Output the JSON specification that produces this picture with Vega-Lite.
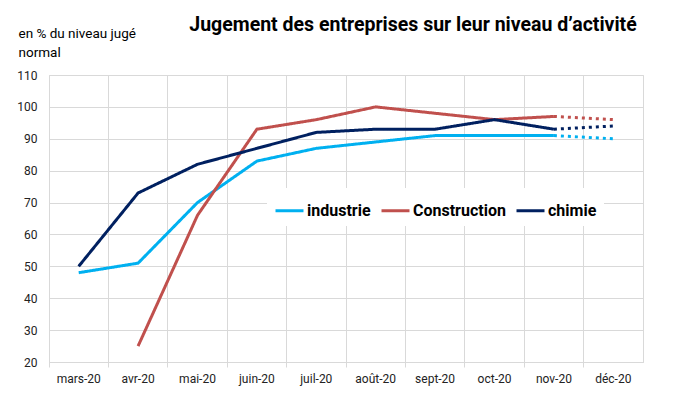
{
  "$schema": "https://vega.github.io/schema/vega-lite/v6.json",
  "width": 594,
  "height": 287,
  "autosize": {"type": "none"},
  "padding": {"left": 49, "top": 75, "right": 37, "bottom": 35},
  "background": "white",
  "config": {
    "font": "Roboto",
    "view": {"stroke": "#d9d9d9", "strokeWidth": 1}
  },
  "title": {
    "text": "Jugement des entreprises sur leur niveau d’activité",
    "font": "Roboto",
    "fontSize": 19.5,
    "fontWeight": "bold",
    "color": "#000000",
    "anchor": "middle",
    "dx": 67,
    "offset": -9
  },
  "data": {
    "values": [
      {"mois": "mars-20", "serie": "industrie", "valeur": 48, "trait": "réel"},
      {"mois": "avr-20", "serie": "industrie", "valeur": 51, "trait": "réel"},
      {"mois": "mai-20", "serie": "industrie", "valeur": 70, "trait": "réel"},
      {"mois": "juin-20", "serie": "industrie", "valeur": 83, "trait": "réel"},
      {"mois": "juil-20", "serie": "industrie", "valeur": 87, "trait": "réel"},
      {"mois": "août-20", "serie": "industrie", "valeur": 89, "trait": "réel"},
      {"mois": "sept-20", "serie": "industrie", "valeur": 91, "trait": "réel"},
      {"mois": "oct-20", "serie": "industrie", "valeur": 91, "trait": "réel"},
      {"mois": "nov-20", "serie": "industrie", "valeur": 91, "trait": "réel"},
      {"mois": "nov-20", "serie": "industrie", "valeur": 91, "trait": "prévision"},
      {"mois": "déc-20", "serie": "industrie", "valeur": 90, "trait": "prévision"},
      {"mois": "avr-20", "serie": "Construction", "valeur": 25, "trait": "réel"},
      {"mois": "mai-20", "serie": "Construction", "valeur": 66, "trait": "réel"},
      {"mois": "juin-20", "serie": "Construction", "valeur": 93, "trait": "réel"},
      {"mois": "juil-20", "serie": "Construction", "valeur": 96, "trait": "réel"},
      {"mois": "août-20", "serie": "Construction", "valeur": 100, "trait": "réel"},
      {"mois": "sept-20", "serie": "Construction", "valeur": 98, "trait": "réel"},
      {"mois": "oct-20", "serie": "Construction", "valeur": 96, "trait": "réel"},
      {"mois": "nov-20", "serie": "Construction", "valeur": 97, "trait": "réel"},
      {"mois": "nov-20", "serie": "Construction", "valeur": 97, "trait": "prévision"},
      {"mois": "déc-20", "serie": "Construction", "valeur": 96, "trait": "prévision"},
      {"mois": "mars-20", "serie": "chimie", "valeur": 50, "trait": "réel"},
      {"mois": "avr-20", "serie": "chimie", "valeur": 73, "trait": "réel"},
      {"mois": "mai-20", "serie": "chimie", "valeur": 82, "trait": "réel"},
      {"mois": "juin-20", "serie": "chimie", "valeur": 87, "trait": "réel"},
      {"mois": "juil-20", "serie": "chimie", "valeur": 92, "trait": "réel"},
      {"mois": "août-20", "serie": "chimie", "valeur": 93, "trait": "réel"},
      {"mois": "sept-20", "serie": "chimie", "valeur": 93, "trait": "réel"},
      {"mois": "oct-20", "serie": "chimie", "valeur": 96, "trait": "réel"},
      {"mois": "nov-20", "serie": "chimie", "valeur": 93, "trait": "réel"},
      {"mois": "nov-20", "serie": "chimie", "valeur": 93, "trait": "prévision"},
      {"mois": "déc-20", "serie": "chimie", "valeur": 94, "trait": "prévision"}
    ]
  },
  "mark": {"type": "line", "strokeWidth": 3, "strokeCap": "butt"},
  "encoding": {
    "x": {
      "field": "mois",
      "type": "nominal",
      "sort": ["mars-20", "avr-20", "mai-20", "juin-20", "juil-20", "août-20", "sept-20", "oct-20", "nov-20", "déc-20"],
      "scale": {"type": "band", "paddingInner": 0, "paddingOuter": 0},
      "axis": {
        "title": null,
        "bandPosition": 0,
        "labelAngle": 0,
        "labelAlign": "center",
        "labelFontSize": 12,
        "labelColor": "#222222",
        "labelPadding": 6,
        "grid": true,
        "gridColor": "#d9d9d9",
        "ticks": true,
        "tickColor": "#d9d9d9",
        "tickSize": 5,
        "domainColor": "#d9d9d9"
      }
    },
    "y": {
      "field": "valeur",
      "type": "quantitative",
      "scale": {"domain": [20, 110], "nice": false, "zero": false},
      "axis": {
        "values": [20, 30, 40, 50, 60, 70, 80, 90, 100, 110],
        "title": ["en % du niveau jugé", "normal"],
        "titleAngle": 0,
        "titleAlign": "left",
        "titleBaseline": "middle",
        "titleX": -31,
        "titleY": -42,
        "titleFontSize": 13.5,
        "titleFontWeight": "normal",
        "titleColor": "#000000",
        "titleLineHeight": 19,
        "labelFontSize": 12,
        "labelColor": "#222222",
        "labelPadding": 12,
        "ticks": false,
        "domain": false,
        "grid": true,
        "gridColor": "#d9d9d9"
      }
    },
    "color": {
      "field": "serie",
      "type": "nominal",
      "scale": {"domain": ["industrie", "Construction", "chimie"], "range": ["#00b0f0", "#c0504d", "#002060"]},
      "legend": {
        "title": null,
        "orient": "none",
        "direction": "horizontal",
        "legendX": 218,
        "legendY": 113,
        "fillColor": "white",
        "padding": 7,
        "symbolType": "stroke",
        "symbolSize": 784,
        "symbolStrokeWidth": 3,
        "labelFontSize": 16,
        "labelFontWeight": "bold",
        "labelColor": "#000000",
        "labelOffset": 2,
        "columnPadding": 4
      }
    },
    "strokeDash": {
      "field": "trait",
      "type": "nominal",
      "scale": {"domain": ["réel", "prévision"], "range": [[1, 0], [3, 4]]},
      "legend": null
    },
    "detail": {"field": "trait"}
  }
}
